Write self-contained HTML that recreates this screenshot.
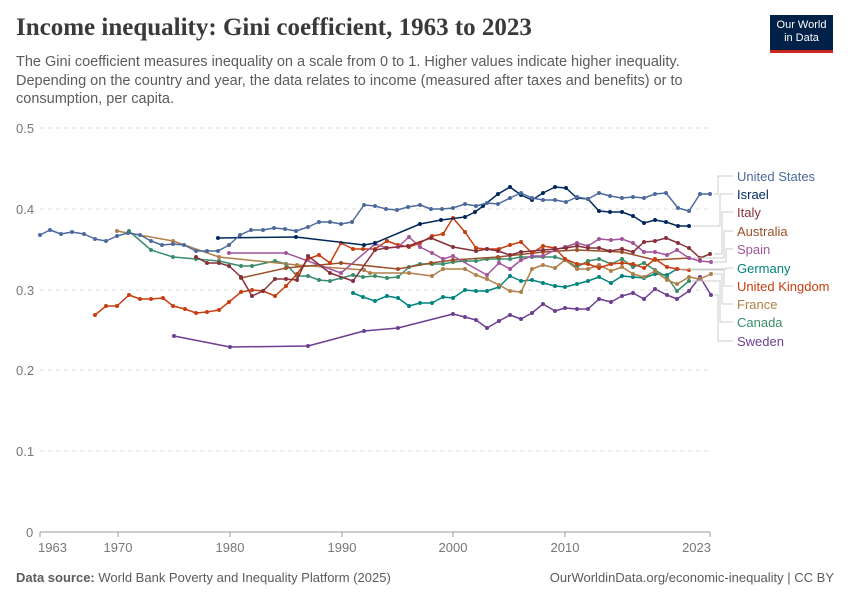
<!DOCTYPE html>
<html><head><meta charset="utf-8"><style>
body{margin:0;width:850px;height:600px;background:#fff;font-family:"Liberation Sans",sans-serif;overflow:hidden;position:relative}
.t{position:absolute;left:16px;top:14px;font-family:"Liberation Serif",serif;font-size:25px;font-weight:bold;color:#3a3a3a}
.s{position:absolute;left:16px;top:53px;font-size:14.5px;line-height:18.5px;color:#5b5b5b;width:720px}
.logo{position:absolute;left:770px;top:15px;width:63px;height:38px;background:#002147;border-bottom:3px solid #ce261e;color:#fff;font-size:11px;line-height:13px;text-align:center;padding-top:4px;box-sizing:border-box}
.f{position:absolute;top:570px;font-size:13px;color:#5b5b5b}
</style></head><body>
<div class="t">Income inequality: Gini coefficient, 1963 to 2023</div>
<div class="s">The Gini coefficient measures inequality on a scale from 0 to 1. Higher values indicate higher inequality. Depending on the country and year, the data relates to income (measured after taxes and benefits) or to consumption, per capita.</div>
<div class="logo">Our World<br>in Data</div>
<svg width="850" height="600" style="position:absolute;left:0;top:0" font-family="Liberation Sans, sans-serif">
<defs>
<marker id="m1" markerWidth="6" markerHeight="6" refX="3" refY="3" markerUnits="userSpaceOnUse"><circle cx="3" cy="3" r="2" fill="#6D3E91"/></marker>
<marker id="m2" markerWidth="6" markerHeight="6" refX="3" refY="3" markerUnits="userSpaceOnUse"><circle cx="3" cy="3" r="2" fill="#00847E"/></marker>
<marker id="m3" markerWidth="6" markerHeight="6" refX="3" refY="3" markerUnits="userSpaceOnUse"><circle cx="3" cy="3" r="2" fill="#3A8D6A"/></marker>
<marker id="m4" markerWidth="6" markerHeight="6" refX="3" refY="3" markerUnits="userSpaceOnUse"><circle cx="3" cy="3" r="2" fill="#B0804A"/></marker>
<marker id="m5" markerWidth="6" markerHeight="6" refX="3" refY="3" markerUnits="userSpaceOnUse"><circle cx="3" cy="3" r="2" fill="#9A5129"/></marker>
<marker id="m6" markerWidth="6" markerHeight="6" refX="3" refY="3" markerUnits="userSpaceOnUse"><circle cx="3" cy="3" r="2" fill="#C83E10"/></marker>
<marker id="m7" markerWidth="6" markerHeight="6" refX="3" refY="3" markerUnits="userSpaceOnUse"><circle cx="3" cy="3" r="2" fill="#A2559C"/></marker>
<marker id="m8" markerWidth="6" markerHeight="6" refX="3" refY="3" markerUnits="userSpaceOnUse"><circle cx="3" cy="3" r="2" fill="#883039"/></marker>
<marker id="m9" markerWidth="6" markerHeight="6" refX="3" refY="3" markerUnits="userSpaceOnUse"><circle cx="3" cy="3" r="2" fill="#00295B"/></marker>
<marker id="m10" markerWidth="6" markerHeight="6" refX="3" refY="3" markerUnits="userSpaceOnUse"><circle cx="3" cy="3" r="2" fill="#4C6A9C"/></marker>
</defs>
<g stroke="#ddd" stroke-dasharray="4,4">
<line x1="40" x2="710" y1="128" y2="128"/><line x1="40" x2="710" y1="209" y2="209"/><line x1="40" x2="710" y1="290" y2="290"/><line x1="40" x2="710" y1="370" y2="370"/><line x1="40" x2="710" y1="451" y2="451"/>
</g>
<line x1="40" x2="710" y1="532" y2="532" stroke="#999"/>
<g fill="#777" font-size="13">
<text x="16" y="133">0.5</text><text x="16" y="214">0.4</text><text x="16" y="295">0.3</text><text x="16" y="375">0.2</text><text x="16" y="456">0.1</text><text x="26" y="537">0</text>
<text x="38" y="552">1963</text><text x="118" y="552" text-anchor="middle">1970</text><text x="230" y="552" text-anchor="middle">1980</text><text x="342" y="552" text-anchor="middle">1990</text><text x="453" y="552" text-anchor="middle">2000</text><text x="565" y="552" text-anchor="middle">2010</text><text x="711" y="552" text-anchor="end">2023</text>
</g>
<g stroke="#999"><line x1="40" x2="40" y1="532" y2="537"/><line x1="118" x2="118" y1="532" y2="537"/><line x1="230" x2="230" y1="532" y2="537"/><line x1="342" x2="342" y1="532" y2="537"/><line x1="453" x2="453" y1="532" y2="537"/><line x1="565" x2="565" y1="532" y2="537"/><line x1="710" x2="710" y1="532" y2="537"/></g>
<g fill="none" stroke-width="1.5" stroke-linejoin="round">
<polyline marker-start="url(#m1)" marker-mid="url(#m1)" marker-end="url(#m1)" stroke="#6D3E91" points="174,336 230,347 308,346 364,331 398,328 453,314 465,317 476,320 487,328 499,321 510,315 521,319 532,313 543,304 555,311 565,308 577,309 588,309 599,299 611,302 622,296 633,293 644,299 655,289 667,295 677,299 689,291 700,277 711,295"/>
<polyline marker-start="url(#m2)" marker-mid="url(#m2)" marker-end="url(#m2)" stroke="#00847E" points="353,293 363,297 375,301 387,296 398,298 409,306 420,303 432,303 443,297 453,298 465,290 476,291 487,291 499,287 510,276 521,281 532,280 543,283 555,286 565,287 577,284 588,281 599,277 611,283 622,276 633,277 644,278 655,274 667,275 677,269"/>
<polyline marker-start="url(#m3)" marker-mid="url(#m3)" marker-end="url(#m3)" stroke="#3A8D6A" points="129,231 151,250 173,257 196,259 219,261 241,266 252,266 275,261 286,264 297,276 308,276 319,280 330,281 341,278 353,275 363,277 375,276 387,278 398,277 409,267 420,264 432,264 443,264 453,262 465,261 476,261 487,259 499,259 510,259 521,257 532,257 543,257 555,257 565,260 577,267 588,261 599,259 611,264 622,259 633,267 644,263 655,270 667,277 677,291 689,281"/>
<polyline marker-start="url(#m4)" marker-mid="url(#m4)" marker-end="url(#m4)" stroke="#B0804A" points="117,231 173,241 219,257 297,265 364,270 370,273 409,273 432,276 443,269 465,269 476,275 487,279 499,285 510,291 521,292 532,269 543,265 555,268 565,260 577,269 588,269 599,265 611,271 622,267 633,274 644,277 655,271 667,280 677,284 689,277 700,279 711,274"/>
<polyline marker-start="url(#m5)" marker-mid="url(#m5)" marker-end="url(#m5)" stroke="#9A5129" points="241,278 286,268 341,263 398,269 431,263 453,260 498,257 543,252 577,250 622,252 655,260 689,258"/>
<polyline marker-start="url(#m6)" marker-mid="url(#m6)" marker-end="url(#m6)" stroke="#C83E10" points="95,315 106,306 117,306 129,295 140,299 151,299 163,298 173,306 185,309 196,313 207,312 219,310 229,302 241,292 252,290 263,291 275,296 286,286 297,274 308,259 319,255 330,263 341,243 353,249 363,249 375,249 387,241 398,245 409,247 420,243 432,236 443,234 453,218 465,232 476,248 487,249 499,249 510,245 521,242 532,253 543,246 555,248 565,259 577,264 588,264 599,268 611,264 622,263 633,264 644,268 655,259 667,267 677,269 689,270"/>
<polyline marker-start="url(#m7)" marker-mid="url(#m7)" marker-end="url(#m7)" stroke="#A2559C" points="229,253 286,253 341,273 375,244 387,248 398,247 409,237 420,247 432,253 443,259 453,256 487,275 499,263 510,269 521,260 532,256 543,256 555,250 565,247 577,243 588,246 599,239 611,240 622,239 633,243 644,252 655,252 667,255 677,250 689,258 700,261 711,262"/>
<polyline marker-start="url(#m8)" marker-mid="url(#m8)" marker-end="url(#m8)" stroke="#883039" points="196,257 207,263 219,263 229,266 241,277 252,296 263,291 275,279 286,279 297,280 308,256 330,273 353,281 375,250 386,248 408,246 431,238 453,247 476,251 487,249 498,251 510,255 521,252 543,250 555,249 566,248 577,246 588,248 599,248 610,251 622,249 633,252 644,242 655,241 666,238 678,243 689,248 700,258 710,254"/>
<polyline marker-start="url(#m9)" marker-mid="url(#m9)" marker-end="url(#m9)" stroke="#00295B" points="218,238 296,237 364,245 375,243 420,224 441,220 465,217 475,212 483,206 498,194 510,187 521,195 532,200 543,193 555,187 566,188 577,198 588,199 599,211 610,212 622,212 633,216 644,223 655,220 666,222 678,226 689,226"/>
<polyline marker-start="url(#m10)" marker-mid="url(#m10)" marker-end="url(#m10)" stroke="#4C6A9C" points="40,235 50,230 61,234 72,232 84,234 95,239 106,241 117,236 128,233 140,235 151,241 162,245 173,244 184,245 196,251 207,251 218,251 229,245 240,235 251,230 263,230 274,228 285,229 296,231 308,227 319,222 330,222 341,224 352,222 364,205 375,206 386,209 397,210 408,207 420,205 431,209 442,209 453,208 465,204 476,206 487,203 498,204 510,198 521,193 532,198 543,200 555,200 566,202 577,197 588,199 599,193 610,196 622,198 633,197 644,198 655,194 666,193 678,208 689,211 700,194 710,194"/>
</g>
<g fill="none" stroke="#ccc" stroke-width="1">
<polyline points="714,194 718,194 718,176 733,176"/>
<polyline points="692,226 720,226 720,194 733,194"/>
<polyline points="714,254 722,254 722,212 733,212"/>
<polyline points="692,258 724,258 724,231 733,231"/>
<polyline points="714,262 726,262 726,249 733,249"/>
<polyline points="680,269 726,269 726,268 733,268"/>
<polyline points="692,270 724,270 724,286 733,286"/>
<polyline points="714,274 722,274 722,304 733,304"/>
<polyline points="692,281 720,281 720,322 733,322"/>
<polyline points="714,295 718,295 718,341 733,341"/>
</g>
<g font-size="13">
<text x="737" y="181" fill="#4C6A9C">United States</text>
<text x="737" y="199" fill="#00295B">Israel</text>
<text x="737" y="217" fill="#883039">Italy</text>
<text x="737" y="236" fill="#9A5129">Australia</text>
<text x="737" y="254" fill="#A2559C">Spain</text>
<text x="737" y="273" fill="#00847E">Germany</text>
<text x="737" y="291" fill="#C83E10">United Kingdom</text>
<text x="737" y="309" fill="#B0804A">France</text>
<text x="737" y="327" fill="#3A8D6A">Canada</text>
<text x="737" y="346" fill="#6D3E91">Sweden</text>
</g>
</svg>
<div class="f" style="left:16px"><b>Data source:</b> World Bank Poverty and Inequality Platform (2025)</div>
<div class="f" style="right:16px">OurWorldinData.org/economic-inequality | CC BY</div>
</body></html>
